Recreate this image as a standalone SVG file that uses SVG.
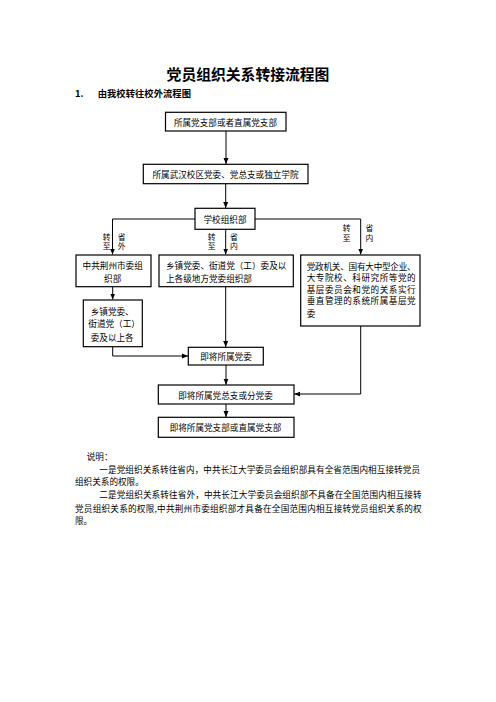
<svg xmlns="http://www.w3.org/2000/svg" width="496" height="702" viewBox="0 0 496 702">
<style>
text{font-family:"Noto Sans CJK SC","Liberation Sans",sans-serif;fill:#000;dominant-baseline:central}
.b{fill:#fff;stroke:#000;stroke-width:1.2}
.t{font-size:8.6px}
.v{font-size:7.8px;text-anchor:middle}
.c{text-anchor:middle}
.n{font-size:8.6px}
.ln{fill:none;stroke:#000;stroke-width:1}
</style>
<defs>
<marker id="ah" markerUnits="userSpaceOnUse" markerWidth="6" markerHeight="6" viewBox="0 0 6 6" refX="6" refY="3" orient="auto">
<path d="M0,0.5 L6,3 L0,5.5 Z" fill="#000"/>
</marker>
</defs>
<rect width="496" height="702" fill="#fff"/>
<text x="248" y="73.5" font-size="14.8" font-weight="bold" text-anchor="middle">党员组织关系转接流程图</text>
<text x="75" y="93" font-size="9.3" font-weight="bold">1.</text>
<text x="97.7" y="93" font-size="9.3" font-weight="bold" textLength="93.3">由我校转往校外流程图</text>

<g id="connectors">
<line class="ln" x1="226" y1="131" x2="226" y2="164" marker-end="url(#ah)"/>
<line class="ln" x1="225.7" y1="183.7" x2="225.7" y2="208" marker-end="url(#ah)"/>
<polyline class="ln" points="195,219 112.5,219 112.5,254.5" marker-end="url(#ah)"/>
<polyline class="ln" points="255,219 360.7,219 360.7,254.5" marker-end="url(#ah)"/>
<line class="ln" x1="225.7" y1="229.3" x2="225.7" y2="254.5" marker-end="url(#ah)"/>
<line class="ln" x1="112.7" y1="286.7" x2="112.7" y2="299.5" marker-end="url(#ah)"/>
<line class="ln" x1="225.7" y1="286.7" x2="225.7" y2="347" marker-end="url(#ah)"/>
<polyline class="ln" points="112.7,346.7 112.7,356 188,356" marker-end="url(#ah)"/>
<line class="ln" x1="226" y1="365" x2="226" y2="384.7" marker-end="url(#ah)"/>
<polyline class="ln" points="360.7,326 360.7,394 294.3,394" marker-end="url(#ah)"/>
<line class="ln" x1="226" y1="404" x2="226" y2="417" marker-end="url(#ah)"/>
<g>
<text class="v" x="106.7" y="236">转</text><text class="v" x="106.7" y="245.8">至</text>
<text class="v" x="121.7" y="236">省</text><text class="v" x="121.7" y="245.8">外</text>
<text class="v" x="211.7" y="236">转</text><text class="v" x="211.7" y="245.8">至</text>
<text class="v" x="234" y="236">省</text><text class="v" x="234" y="245.8">内</text>
<text class="v" x="346.7" y="227.3">转</text><text class="v" x="346.7" y="237.1">至</text>
<text class="v" x="369.3" y="227.3">省</text><text class="v" x="369.3" y="237.1">内</text>
</g>
</g>

<g id="n1"><rect class="b" x="165.5" y="112.3" width="120.5" height="18.7"/>
<text class="t c" x="225.5" y="121.7">所属党支部或者直属党支部</text></g>

<g id="n2"><rect class="b" x="143.3" y="164.3" width="164.7" height="19.4"/>
<text class="t c" x="225.5" y="174">所属武汉校区党委、党总支或独立学院</text></g>

<g id="n3"><rect class="b" x="195" y="208.3" width="60" height="21"/>
<text class="t c" x="225" y="219">学校组织部</text></g>

<g id="n4"><rect class="b" x="76" y="255" width="75" height="31.7"/>
<text class="t c" x="112.7" y="264.5">中共荆州市委组</text>
<text class="t c" x="112.7" y="277.5">织部</text></g>

<g id="n5"><rect class="b" x="159" y="255" width="134.3" height="31.7"/>
<text class="t" x="166" y="264.5">乡镇党委、街道党（工）委及以</text>
<text class="t" x="166" y="277.5">上各级地方党委组织部</text></g>

<g id="n6"><rect class="b" x="300.7" y="255" width="119.3" height="71"/>
<text class="t" x="306.7" y="265.5" textLength="109">党政机关、国有大中型企业、</text>
<text class="t" x="306.7" y="277" textLength="109">大专院校、科研究所等党的</text>
<text class="t" x="306.7" y="288.5" textLength="109">基层委员会和党的关系实行</text>
<text class="t" x="306.7" y="300" textLength="109">垂直管理的系统所属基层党</text>
<text class="t" x="306.7" y="313">委</text></g>

<g id="n7"><rect class="b" x="83.3" y="300" width="59" height="46.7"/>
<text class="t" x="90.7" y="310.7">乡镇党委、</text>
<text class="t" x="88.3" y="322.7">街道党（工）</text>
<text class="t" x="90.7" y="336.5">委及以上各</text></g>

<g id="n8"><rect class="b" x="188.3" y="347.3" width="75" height="17.7"/>
<text class="t c" x="226" y="356.2">即将所属党委</text></g>

<g id="n9"><rect class="b" x="158.3" y="385" width="135.7" height="19"/>
<text class="t c" x="225.5" y="394.5">即将所属党总支或分党委</text></g>

<g id="n10"><rect class="b" x="158.3" y="417.3" width="135.7" height="20"/>
<text class="t c" x="225.5" y="427">即将所属党支部或直属党支部</text></g>

<g id="notes" class="n">
<text x="86.7" y="455.5">说明：</text>
<text x="99.3" y="468.5" textLength="320.7">一是党组织关系转往省内，中共长江大学委员会组织部具有全省范围内相互接转党员</text>
<text x="75" y="481.3">组织关系的权限。</text>
<text x="99.3" y="493.5" textLength="322.4">二是党组织关系转往省外，中共长江大学委员会组织部不具备在全国范围内相互接转</text>
<text x="75" y="508" textLength="346.7">党员组织关系的权限,中共荆州市委组织部才具备在全国范围内相互接转党员组织关系的权</text>
<text x="75" y="520">限。</text>
</g>
</svg>
